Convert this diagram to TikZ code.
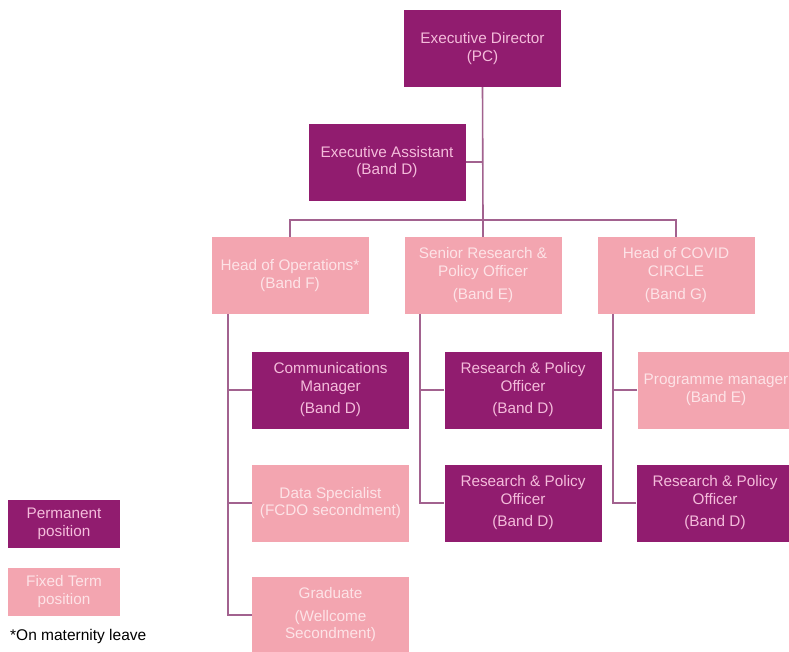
\documentclass[tikz,border=0pt]{standalone}
\usepackage{fontspec}
\setmainfont{Liberation Sans}
\definecolor{permfill}{HTML}{911C6F}
\definecolor{permtext}{HTML}{F4BCDB}
\definecolor{fixfill}{HTML}{F3A5B0}
\definecolor{fixtext}{HTML}{FDE3E7}
\definecolor{linec}{HTML}{A2628F}
\tikzset{
  base/.style={rectangle, minimum width=157pt, minimum height=77pt, align=center, inner sep=1pt,
    font=\fontsize{15.3}{17.5}\selectfont},
  perm/.style={base, fill=permfill, text=permtext},
  fix/.style={base, fill=fixfill, text=fixtext},
  conn/.style={draw=linec, line width=1.6pt},
}
\begin{document}
\begin{tikzpicture}[x=1pt,y=-1pt]
\useasboundingbox (0,0) rectangle (789,651);
% top
\node[perm] (ed) at (482.5,48.5) {Executive Director\\(PC)};
\node[perm] (ea) at (387,162) {Executive Assistant\\(Band D)};
% heads
\node[fix] (ops) at (290,275.5) {Head of Operations*\\(Band F)};
\node[fix] (srp) at (483,275.5) {Senior Research \&\\Policy Officer\\[6pt](Band E)};
\node[fix] (cov) at (676,275.5) {Head of COVID\\CIRCLE\\[6pt](Band G)};
% ops column
\node[perm] (cm) at (330.5,390) {Communications\\Manager\\[5pt](Band D)};
\node[fix] (ds) at (330.5,503) {Data Specialist\\(FCDO secondment)};
\node[fix] (gr) at (330.5,615) {Graduate\\[5pt](Wellcome\\Secondment)};
% srp column
\node[perm] (rp1) at (523,390) {Research \& Policy\\Officer\\[5pt](Band D)};
\node[perm] (rp2) at (523,503) {Research \& Policy\\Officer\\[5pt](Band D)};
% covid column
\node[fix] (pm) at (716,390) {Programme manager\\(Band E)};
\node[perm] (rp3) at (715,503) {Research \& Policy\\Officer\\[5pt](Band D)};
% legend
\node[perm, minimum width=112pt, minimum height=48pt] (lp) at (64,524) {Permanent\\position};
\node[fix, minimum width=112pt, minimum height=48pt] (lf) at (64,591.5) {Fixed Term\\position};
\node[anchor=west, inner sep=0pt, font=\fontsize{15.5}{17}\selectfont] (ml) at (10,636) {*On maternity leave};
% connectors
\coordinate (bus) at (483,220);
\coordinate (opsv) at (228,314);
\coordinate (srpv) at (420,314);
\coordinate (covv) at (613,314);
\draw[conn] (ed.south) -- (bus);
\draw[conn] (ea.east) -- (ea.east -| ed.south);
\draw[conn] (ops.north) |- (bus) -| (cov.north);
\draw[conn] (srp.north) -- (bus);
\draw[conn] (opsv) |- (gr.west);
\draw[conn] (cm.west) -- (cm.west -| opsv);
\draw[conn] (ds.west) -- (ds.west -| opsv);
\draw[conn] (srpv) |- (rp2.west);
\draw[conn] (rp1.west) -- (rp1.west -| srpv);
\draw[conn] (covv) |- (rp3.west);
\draw[conn] (pm.west) -- (pm.west -| covv);
\end{tikzpicture}
\end{document}
